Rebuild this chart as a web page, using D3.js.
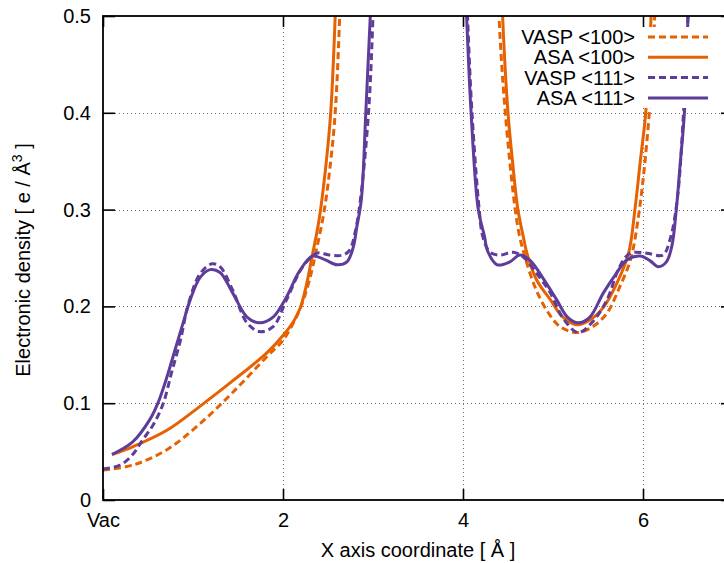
<!DOCTYPE html>
<html>
<head>
<meta charset="utf-8">
<script src="https://cdn.jsdelivr.net/npm/d3@7"></script>
<style>
  body { margin: 0; background: #fff; }
  svg text { font-family: "Liberation Sans", Arial, Helvetica, sans-serif; }
</style>
</head>
<body>
<div id="chart"></div>
<script>
//Values: [x (Å), density (e/Å^3)]
//points above 0.5 only carry the curves out of the clipped frame
var vasp100 = [[0.00,0.031],[0.33,0.036],[0.71,0.052],[1.08,0.079],[1.44,0.111],[1.82,0.148],[2.00,0.165],[2.11,0.182],[2.20,0.200],[2.29,0.226],[2.37,0.258],[2.46,0.300],[2.53,0.350],[2.58,0.400],[2.63,0.500],[2.67,0.620],[3.50,2.0],[4.36,0.620],[4.40,0.500],[4.47,0.400],[4.58,0.300],[4.63,0.272],[4.69,0.251],[4.80,0.220],[4.93,0.196],[5.08,0.179],[5.27,0.173],[5.44,0.179],[5.60,0.193],[5.74,0.220],[5.86,0.248],[5.96,0.300],[6.07,0.400],[6.13,0.500],[6.17,0.620],[7.0,2.0]]

var asa100 = [[0.10,0.047],[0.33,0.055],[0.71,0.072],[1.08,0.097],[1.44,0.123],[1.82,0.152],[2.00,0.170],[2.12,0.185],[2.19,0.198],[2.26,0.222],[2.32,0.250],[2.40,0.289],[2.47,0.340],[2.53,0.400],[2.58,0.500],[2.62,0.620],[3.50,2.0],[4.40,0.620],[4.44,0.500],[4.50,0.400],[4.55,0.350],[4.61,0.300],[4.67,0.272],[4.71,0.255],[4.82,0.227],[4.97,0.207],[5.11,0.189],[5.27,0.181],[5.41,0.186],[5.56,0.199],[5.71,0.224],[5.84,0.255],[5.91,0.300],[5.97,0.350],[6.03,0.400],[6.09,0.500],[6.13,0.620],[7.0,2.0]]

var vasp111 = [[0.00,0.032],[0.19,0.036],[0.33,0.047],[0.44,0.062],[0.56,0.078],[0.67,0.100],[0.76,0.131],[0.86,0.165],[0.95,0.203],[1.08,0.234],[1.21,0.244],[1.30,0.241],[1.44,0.217],[1.60,0.183],[1.74,0.174],[1.89,0.179],[2.04,0.207],[2.22,0.241],[2.38,0.255],[2.52,0.253],[2.66,0.253],[2.74,0.258],[2.80,0.276],[2.86,0.310],[2.95,0.400],[3.00,0.500],[3.04,0.620],[3.50,2.0],[4.00,0.620],[4.05,0.500],[4.10,0.400],[4.18,0.300],[4.22,0.272],[4.30,0.256],[4.41,0.253],[4.56,0.256],[4.67,0.251],[4.82,0.234],[4.97,0.214],[5.11,0.188],[5.28,0.173],[5.44,0.184],[5.60,0.207],[5.74,0.241],[5.86,0.255],[6.04,0.255],[6.22,0.253],[6.30,0.269],[6.38,0.310],[6.45,0.400],[6.50,0.500],[6.54,0.620],[7.0,2.0]]

var asa111 = [[0.10,0.047],[0.33,0.060],[0.52,0.083],[0.61,0.100],[0.71,0.127],[0.80,0.155],[0.89,0.183],[0.97,0.207],[1.08,0.230],[1.19,0.238],[1.30,0.235],[1.44,0.214],[1.60,0.189],[1.74,0.183],[1.89,0.189],[2.04,0.210],[2.18,0.236],[2.33,0.252],[2.47,0.248],[2.60,0.243],[2.71,0.246],[2.78,0.261],[2.82,0.282],[2.87,0.310],[2.92,0.400],[2.97,0.500],[3.01,0.620],[3.50,2.0],[3.99,0.620],[4.04,0.500],[4.09,0.400],[4.17,0.300],[4.24,0.272],[4.27,0.258],[4.38,0.243],[4.52,0.246],[4.63,0.253],[4.74,0.248],[4.89,0.229],[5.04,0.207],[5.16,0.189],[5.28,0.183],[5.41,0.189],[5.56,0.214],[5.71,0.235],[5.82,0.248],[5.97,0.252],[6.08,0.247],[6.17,0.241],[6.26,0.246],[6.32,0.262],[6.37,0.300],[6.41,0.344],[6.46,0.400],[6.50,0.500],[6.54,0.620],[7.0,2.0]]

var xTicks = [0, 2, 4, 6]
var xTickLabels = ["Vac", "2", "4", "6"]
var yTicks = [0, 0.1, 0.2, 0.3, 0.4, 0.5]
var yTickLabels = ["0", "0.1", "0.2", "0.3", "0.4", "0.5"]
var seriesNames = ["VASP <100>", "ASA <100>", "VASP <111>", "ASA <111>"]

drawChart()

function drawChart() {

	//////////////////////////// Set up the svg ////////////////////////////
	var width = 724,
		height = 563
	var left = 103, right = 733, top = 16, bottom = 500

	var svg = d3.select("#chart").append("svg")
		.attr("width", width)
		.attr("height", height)

	var orange = "#e66101",
		purple = "#5e3c99"

	var series = [
		{ name: seriesNames[0], data: vasp100, color: orange, dash: "7,4" },
		{ name: seriesNames[1], data: asa100, color: orange, dash: null },
		{ name: seriesNames[2], data: vasp111, color: purple, dash: "7,4" },
		{ name: seriesNames[3], data: asa111, color: purple, dash: null }
	]

	/////////////////////////////// Scales ///////////////////////////////
	var x = d3.scaleLinear().domain([0, 7]).range([left, right])
	var y = d3.scaleLinear().domain([0, 0.5]).range([bottom, top])

	/////////////////////////////// Grid ///////////////////////////////
	var grid = svg.append("g")
		.attr("stroke", "#707070")
		.attr("stroke-width", 1)
		.attr("stroke-dasharray", "1,3")

	grid.selectAll(".gx")
		.data(xTicks.filter(d => d > 0))
		.enter().append("line")
		.attr("x1", d => Math.round(x(d)) + 0.5)
		.attr("x2", d => Math.round(x(d)) + 0.5)
		.attr("y1", top)
		.attr("y2", bottom)

	grid.selectAll(".gy")
		.data(yTicks.filter(d => d > 0 && d < 0.5))
		.enter().append("line")
		.attr("x1", left)
		.attr("x2", right)
		.attr("y1", d => Math.round(y(d)) + 0.5)
		.attr("y2", d => Math.round(y(d)) + 0.5)

	/////////////////////////////// Axes ///////////////////////////////
	var fmtX = (d, i) => xTickLabels[i]
	var fmtY = (d, i) => yTickLabels[i]

	var gLeft = svg.append("g")
		.attr("transform", `translate(${left},0)`)
		.call(d3.axisLeft(y).tickValues(yTicks).tickFormat(fmtY).tickSizeInner(-12).tickSizeOuter(0).tickPadding(12))
	var gBottom = svg.append("g")
		.attr("transform", `translate(0,${bottom})`)
		.call(d3.axisBottom(x).tickValues(xTicks).tickFormat(fmtX).tickSizeInner(-11).tickSizeOuter(0).tickPadding(13))
	var gTop = svg.append("g")
		.attr("transform", `translate(0,${top})`)
		.call(d3.axisTop(x).tickValues(xTicks).tickFormat("").tickSizeInner(-11).tickSizeOuter(0))
	var gRight = svg.append("g")
		.attr("transform", `translate(${right},0)`)
		.call(d3.axisRight(y).tickValues(yTicks).tickFormat("").tickSizeInner(-12).tickSizeOuter(0))

	;[gLeft, gBottom, gTop, gRight].forEach(function(g) {
		g.select(".domain").remove()
		g.selectAll(".tick line").attr("stroke", "#000").attr("stroke-width", 1.6)
		g.selectAll("text")
			.attr("fill", "#000")
			.style("font-size", "20px")
			.style("font-family", "'Liberation Sans', Arial, sans-serif")
	})

	/////////////////////////////// Curves ///////////////////////////////
	svg.append("clipPath").attr("id", "plotClip")
		.append("rect")
		.attr("x", left).attr("y", top)
		.attr("width", right - left).attr("height", bottom - top)

	var line = d3.line()
		.x(d => x(d[0]))
		.y(d => y(d[1]))
		.curve(d3.curveCatmullRom.alpha(0.5))

	svg.append("g")
		.attr("clip-path", "url(#plotClip)")
		.selectAll("path")
		.data(series)
		.enter().append("path")
		.attr("d", d => line(d.data))
		.attr("fill", "none")
		.attr("stroke", d => d.color)
		.attr("stroke-width", 3)
		.attr("stroke-dasharray", d => d.dash)

	/////////////////////////////// Frame ///////////////////////////////
	svg.append("rect")
		.attr("x", left).attr("y", top)
		.attr("width", right - left).attr("height", bottom - top)
		.attr("fill", "none")
		.attr("stroke", "#000")
		.attr("stroke-width", 1.8)

	/////////////////////////////// Legend ///////////////////////////////
	var legend = svg.append("g")
	legend.append("rect")
		.attr("x", 512).attr("y", 27)
		.attr("width", 203).attr("height", 81)
		.attr("fill", "#fff")

	var rows = legend.selectAll(".row")
		.data(series)
		.enter().append("g")
		.attr("transform", (d, i) => `translate(0,${37 + i * 20.3})`)

	rows.append("text")
		.attr("x", 635)
		.attr("y", 7)
		.attr("text-anchor", "end")
		.style("font-size", "20px")
		.text(d => d.name)

	rows.append("line")
		.attr("x1", 648).attr("x2", 708)
		.attr("stroke", d => d.color)
		.attr("stroke-width", 3)
		.attr("stroke-dasharray", d => d.dash)

	/////////////////////////////// Titles ///////////////////////////////
	svg.append("text")
		.attr("x", (left + right) / 2)
		.attr("y", 557)
		.attr("text-anchor", "middle")
		.style("font-size", "20px")
		.text("X axis coordinate [ Å ]")

	var yt = svg.append("text")
		.attr("transform", `translate(30,${(top + bottom) / 2 + 2}) rotate(-90)`)
		.attr("text-anchor", "middle")
		.style("font-size", "20px")
	yt.append("tspan").text("Electronic density [ e / Å")
	yt.append("tspan").attr("dy", -8).style("font-size", "14px").text("3")
	yt.append("tspan").attr("dy", 8).text(" ]")

}//function drawChart
</script>
</body>
</html>
